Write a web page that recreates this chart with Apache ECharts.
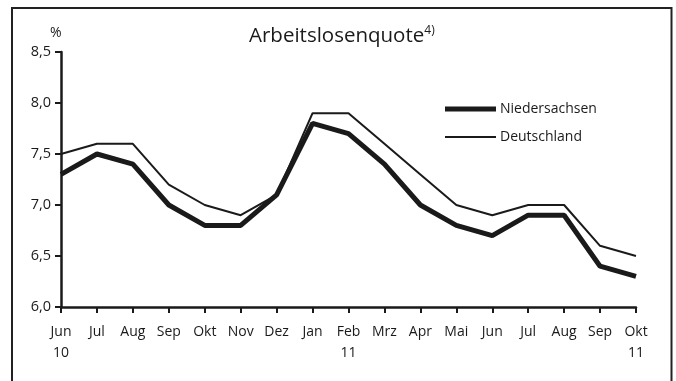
<!DOCTYPE html>
<html>
<head>
<meta charset="utf-8">
<script src="https://cdn.jsdelivr.net/npm/echarts@6/dist/echarts.min.js"></script>
<style>
  html, body { margin: 0; padding: 0; background: #fff; }
  #chart { width: 676px; height: 381px; }
</style>
</head>
<body>
<div id="chart"></div>
<script>
// Monthly unemployment rate, June 2010 to October 2011
var months = ['Jun\n10', 'Jul', 'Aug', 'Sep', 'Okt', 'Nov', 'Dez', 'Jan', 'Feb\n11',
              'Mrz', 'Apr', 'Mai', 'Jun', 'Jul', 'Aug', 'Sep', 'Okt\n11'];
var niedersachsen = [7.3, 7.5, 7.4, 7.0, 6.8, 6.8, 7.1, 7.8, 7.7, 7.4, 7.0, 6.8, 6.7, 6.9, 6.9, 6.4, 6.3];
var deutschland   = [7.5, 7.6, 7.6, 7.2, 7.0, 6.9, 7.1, 7.9, 7.9, 7.6, 7.3, 7.0, 6.9, 7.0, 7.0, 6.6, 6.5];
var yMin = 6.0, yMax = 8.5, yStep = 0.5;

var FONT = '"Open Sans", "Noto Sans", sans-serif';
var INK = '#1a1a1a';

// One legend block per series so each key line gets its own thickness
function legendFor(name, top, thickness) {
  return {
    data: [name],
    orient: 'vertical',
    left: 445,
    top: top,
    icon: 'rect',
    itemWidth: 51,
    itemHeight: thickness,
    itemGap: 0,
    padding: 0,
    selectedMode: false,
    textStyle: { fontFamily: FONT, fontSize: 14, color: INK, padding: [0, 0, 0, -1] }
  };
}

var chart = echarts.init(document.getElementById('chart'), null, { renderer: 'canvas' });
chart.setOption({
  backgroundColor: '#fff',
  animation: false,
  textStyle: { fontFamily: FONT, color: INK },
  title: {
    text: '{a|Arbeitslosenquote}{s|4)}',
    left: 244,
    top: 20,
    textStyle: {
      fontWeight: 'normal',
      rich: {
        a: { fontFamily: FONT, fontSize: 20.5, fontWeight: 'normal', color: INK },
        s: { fontFamily: FONT, fontSize: 12, fontWeight: 'normal', color: INK, verticalAlign: 'top', padding: [0, 0, 11, 0] }
      }
    }
  },
  legend: [
    legendFor('Niedersachsen', 102, 5),
    legendFor('Deutschland', 130, 2)
  ],
  graphic: [
    {
      type: 'rect',
      shape: { x: 12, y: 8, width: 659.5, height: 400 },
      style: { fill: 'none', stroke: '#222', lineWidth: 2 },
      silent: true
    },
    {
      type: 'text',
      left: 50,
      top: 26,
      style: { text: '%', fontFamily: FONT, fontSize: 14, fill: INK }
    }
  ],
  grid: { left: 61, right: 40, top: 52, bottom: 74, containLabel: false },
  xAxis: {
    type: 'category',
    data: months,
    boundaryGap: false,
    axisLine: { lineStyle: { color: INK, width: 2.5 } },
    axisTick: { alignWithLabel: true, length: 6, lineStyle: { color: INK, width: 2 } },
    axisLabel: {
      interval: 0,
      margin: 15,
      fontFamily: FONT,
      fontSize: 14,
      lineHeight: 21,
      color: INK
    },
    splitLine: { show: false }
  },
  yAxis: {
    type: 'value',
    min: yMin,
    max: yMax,
    interval: yStep,
    axisLine: { show: true, lineStyle: { color: INK, width: 2.5 } },
    axisTick: { show: true, length: 6, lineStyle: { color: INK, width: 2 } },
    axisLabel: {
      margin: 10,
      fontFamily: FONT,
      fontSize: 14.5,
      color: INK,
      formatter: function (v) { return v.toFixed(1).replace('.', ','); }
    },
    splitLine: { show: false }
  },
  series: [
    {
      name: 'Niedersachsen',
      type: 'line',
      data: niedersachsen,
      showSymbol: false,
      symbol: 'none',
      lineStyle: { color: INK, width: 5 },
      itemStyle: { color: INK },
      z: 3
    },
    {
      name: 'Deutschland',
      type: 'line',
      data: deutschland,
      showSymbol: false,
      symbol: 'none',
      lineStyle: { color: INK, width: 2 },
      itemStyle: { color: INK },
      z: 2
    }
  ]
});
</script>
</body>
</html>
